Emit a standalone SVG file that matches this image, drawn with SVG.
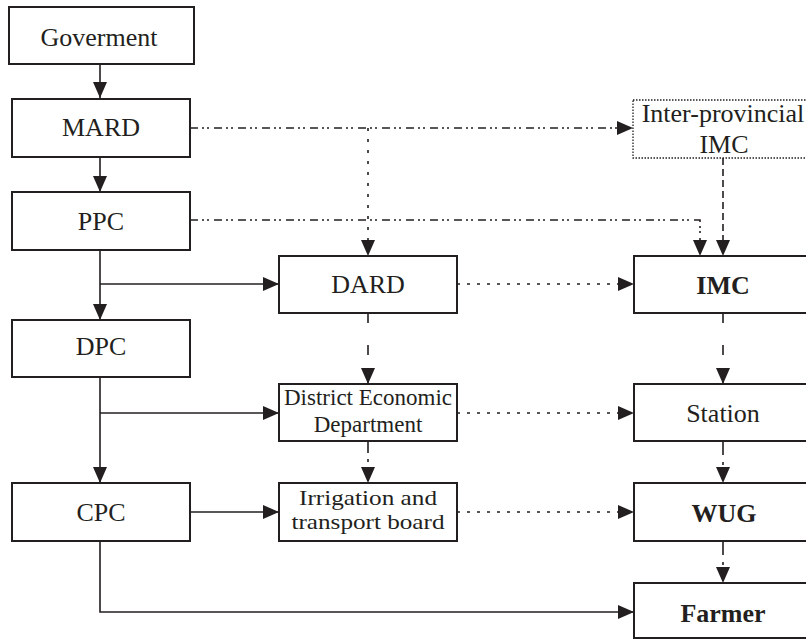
<svg xmlns="http://www.w3.org/2000/svg" width="806" height="640" viewBox="0 0 806 640">
<style>
.box{fill:#fff;stroke:#231f20;stroke-width:2}
.dotbox{fill:#fff;stroke:#231f20;stroke-width:1.3;stroke-dasharray:1.5 1.5}
.t{font-family:"Liberation Serif","Times New Roman",serif;font-size:26px;fill:#231f20;text-anchor:middle}
.b{font-weight:bold}
.s{font-size:23px}
.c{fill:none;stroke:#231f20;stroke-width:1.6}
.solid{marker-end:url(#ah)}
.dd{stroke-dasharray:8 4 2 3 2 5;marker-end:url(#ah)}
.dot{stroke-dasharray:3 8;marker-end:url(#ah)}
.hdot{stroke-dasharray:3 7;marker-end:url(#ah)}
.dash{stroke-dasharray:7 4;marker-end:url(#ah)}
.ldash{stroke-dasharray:10 22;marker-end:url(#ah)}
.dsd{stroke-dasharray:12 6 3 20;marker-end:url(#ah)}
.sd{stroke-dasharray:14 7 3 20;marker-end:url(#ah)}
</style>
<defs>
<marker id="ah" markerUnits="userSpaceOnUse" markerWidth="17" markerHeight="14" refX="16" refY="7" orient="auto">
<path d="M0,0 L16,7 L0,14 Z" fill="#231f20"/>
</marker>
</defs>
<rect width="806" height="640" fill="#fff"/>
<g id="connectors">
<path class="c solid" d="M100,64 V98"/>
<path class="c solid" d="M100,157 V192"/>
<path class="c solid" d="M100,250 V320"/>
<path class="c solid" d="M100,284 H279"/>
<path class="c solid" d="M100,377 V483"/>
<path class="c solid" d="M100,413 H279"/>
<path class="c solid" d="M190,512 H279"/>
<path class="c solid" d="M100,541 V612 H634"/>
<path class="c dd" d="M190,128 H633"/>
<path class="c dot" d="M368,128 V256"/>
<path class="c dd" d="M190,220 H700 V256"/>
<path class="c dash" d="M723,158 V256"/>
<path class="c hdot" d="M457,284 H634"/>
<path class="c hdot" d="M457,413 H634"/>
<path class="c hdot" d="M457,512 H634"/>
<path class="c ldash" d="M368,313 V384"/>
<path class="c dsd" d="M368,441 V483"/>
<path class="c ldash" d="M723,313 V384"/>
<path class="c sd" d="M723,441 V483"/>
<path class="c sd" d="M723,541 V583"/>
</g>
<g id="goverment"><rect class="box" x="9" y="7" width="185" height="57"/><text class="t" x="99" y="46">Goverment</text></g>
<g id="mard"><rect class="box" x="12" y="99" width="178" height="58"/><text class="t" x="101" y="136">MARD</text></g>
<g id="ppc"><rect class="box" x="12" y="192" width="178" height="58"/><text class="t" x="101" y="230">PPC</text></g>
<g id="dpc"><rect class="box" x="12" y="320" width="178" height="57"/><text class="t" x="101" y="355">DPC</text></g>
<g id="cpc"><rect class="box" x="12" y="483" width="178" height="58"/><text class="t" x="101" y="521">CPC</text></g>
<g id="dard"><rect class="box" x="279" y="256" width="178" height="57"/><text class="t" x="368" y="293">DARD</text></g>
<g id="district"><rect class="box" x="279" y="384" width="178" height="57"/><text class="t s" x="368" y="405">District Economic</text><text class="t s" x="368" y="432">Department</text></g>
<g id="irrigation"><rect class="box" x="279" y="483" width="178" height="58"/><text class="t" style="font-size:21px" x="368" y="505" textLength="138" lengthAdjust="spacingAndGlyphs">Irrigation and</text><text class="t" style="font-size:21px" x="368" y="529" textLength="153" lengthAdjust="spacingAndGlyphs">transport board</text></g>
<g id="inter-imc"><rect class="dotbox" x="633" y="100" width="180" height="58"/><text class="t" x="723" y="122">Inter-provincial</text><text class="t" x="724" y="153">IMC</text></g>
<g id="imc"><rect class="box" x="634" y="256" width="180" height="57"/><text class="t b" x="723" y="294">IMC</text></g>
<g id="station"><rect class="box" x="634" y="384" width="180" height="57"/><text class="t" x="723" y="422">Station</text></g>
<g id="wug"><rect class="box" x="634" y="483" width="180" height="58"/><text class="t b" x="724" y="522">WUG</text></g>
<g id="farmer"><rect class="box" x="634" y="583" width="180" height="55"/><text class="t b" x="723" y="622">Farmer</text></g>
</svg>
